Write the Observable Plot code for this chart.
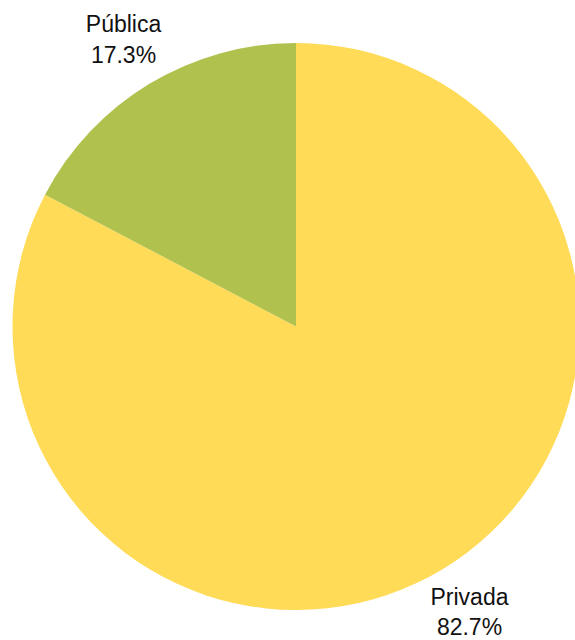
<!DOCTYPE html>
<html><head><meta charset="utf-8">
<script src="https://cdn.jsdelivr.net/npm/d3@7"></script>
<script src="https://cdn.jsdelivr.net/npm/@observablehq/plot@0.6"></script>
<style>html,body{margin:0;padding:0;background:#fff;overflow:hidden}svg{overflow:hidden}</style>
</head><body><div id="chart"></div>
<script>
// Data
const categories = ["Privada", "Pública"];
const shares = [82.7, 17.3];
const shareLabels = ["82.7%", "17.3%"];
const sliceColors = ["#ffdb57", "#b1c14e"];

// Layout
const W = 575, H = 640, CX = 296, CY = 326.5, R = 283.5, LABEL_K = 1.18;

const data = categories.map((c, i) => ({category: c, value: shares[i], label: shareLabels[i], color: sliceColors[i]}));
const arcs = d3.pie().sort(null).value(d => d.value)(data);
const arcGen = d3.arc().innerRadius(0).outerRadius(R);
const labelData = arcs.map(a => {
  const m = (a.startAngle + a.endAngle) / 2;
  return {...a.data, x: CX + LABEL_K * R * Math.sin(m), y: CY - LABEL_K * R * Math.cos(m)};
});

const pieMark = (index, scales) => {
  const sx = scales && scales.x ? scales.x : (v => v);
  const sy = scales && scales.y ? scales.y : (v => v);
  const g = d3.create("svg:g").attr("transform", `translate(${sx(CX)},${sy(CY)})`);
  g.selectAll("path").data(arcs).join("path")
    .attr("d", arcGen)
    .attr("fill", d => d.data.color);
  return g.node();
};

const chart = Plot.plot({
  width: W,
  height: H,
  margin: 0,
  x: {type: "identity", axis: null},
  y: {type: "identity", axis: null},
  style: {fontFamily: "'Liberation Sans', Arial, sans-serif", background: "white", overflow: "hidden"},
  marks: [
    pieMark,
    Plot.text(labelData, {
      x: "x", y: "y",
      text: d => `${d.category}\n${d.label}`,
      fontSize: 23,
      lineHeight: 1.33,
      lineAnchor: "middle",
      dy: -3,
      fill: "#111"
    })
  ]
});
document.getElementById("chart").appendChild(chart);
</script>
</body></html>
